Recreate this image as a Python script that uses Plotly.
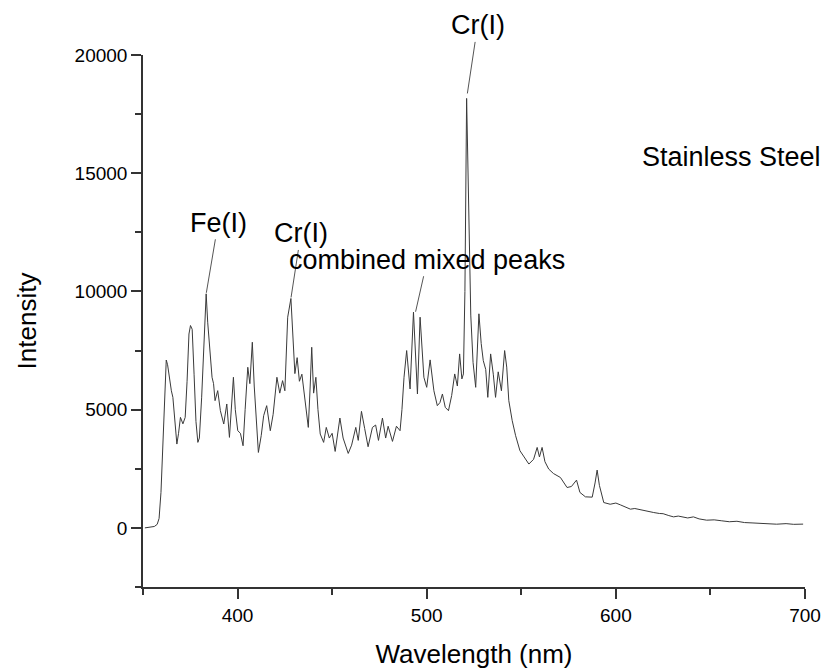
import plotly.graph_objects as go

wavelength = [
    351, 354, 356, 357.5, 358.5, 359.5, 360.5, 361.5, 362.3, 363, 364, 365, 365.8, 366.8, 367.9,
    368.8, 369.8, 371.1, 372.3, 373.3, 374.3, 375.1, 376, 377, 378, 379, 379.8, 381, 382.5, 383.4,
    384.2, 385.1, 386.5, 387.3, 388.1, 389.5, 390.9, 392.7, 394.3, 395.7, 396.8, 397.8, 398.8, 400.1,
    401.5, 402.9, 404, 405.4, 406.5, 407.8, 408.8, 409.8, 411, 412.5, 413.8, 415.4, 417.3, 418.8,
    420.8, 422.3, 423.8, 425, 426.5, 428.2, 429, 430.3, 431.5, 432.7, 434, 435.3, 437.4, 438.4,
    439.2, 440.2, 441.4, 442.5, 443.7, 445.5, 446.9, 448.5, 450, 451.6, 454.1, 455.8, 458.5, 460.3,
    462.5, 463.8, 465.5, 467.2, 469, 471.3, 473, 474.5, 476.6, 478.3, 479.6, 481.9, 484, 485.9,
    486.9, 488, 489.4, 491.2, 493, 495.1, 496.5, 498.5, 500, 501.8, 503.8, 505.6, 507, 508.3, 509.8,
    511.5, 513.2, 514.8, 516.2, 517.4, 518.6, 519.4, 520.2, 521.1, 522, 523.3, 524.5, 525.9, 527.6,
    528.8, 529.9, 531.2, 532.3, 533.8, 535.2, 536.4, 537.8, 539.5, 541.2, 542.3, 543.4, 545.2, 547,
    549.3, 551.5, 554, 556.5, 558.4, 559.6, 561, 562.5, 564.5, 567, 570.7, 574.2, 576.5, 579.2, 581,
    583.9, 587.5, 589, 590.1, 591.3, 593.6, 597, 600, 602.4, 605, 607.7, 610, 613, 616, 620, 623,
    625, 628, 630.5, 633, 636, 638, 641, 644, 648, 652, 656, 660, 664, 668, 672, 676, 681.5, 685,
    690, 694, 699,
]
intensity = [
    0, 20, 60, 150, 400, 1500, 3500, 6200, 7100, 6900, 6228, 5800, 5521, 4600, 3546,
    4000, 4674, 4400, 4674, 6200, 8200, 8559, 8400, 6500, 4500, 3616, 3800, 5500, 8500, 9901,
    8700, 7640, 6370, 6100, 5381, 5805, 4957, 4393, 5240, 3828, 5000, 6370, 5000, 4110,
    4000, 3474, 5000, 6793, 6100, 7852, 6000, 4500, 3191, 3900, 4746, 5169, 4110, 4800,
    6370, 5700, 6228, 5800, 8911, 9703, 8600, 6525, 7200, 6200, 6500, 5593, 4250, 6000,
    7640, 5700, 6370, 5000, 3969, 3616, 4250, 3800, 4000, 3233, 4646, 3800, 3149, 3500,
    4250, 3700, 4929, 4200, 3432, 4250, 4350, 3700, 4646, 3800, 4300, 3658, 4300, 4110,
    5000, 6370, 7500, 5875, 9124, 5663, 8911, 6370, 5945, 7105, 5800, 5169, 5300, 5663, 5100,
    4957, 5600, 6511, 6000, 7358, 6300, 6511, 10000, 18164, 14000, 9000, 7000, 5945, 9054,
    7800, 7076, 6700, 5521, 7358, 6500, 5521, 6600, 5800, 7500, 6800, 5381, 4534, 3900,
    3262, 3000, 2699, 2900, 3403, 3000, 3403, 2800, 2487, 2300, 2131, 1708, 1750, 2021, 1500,
    1313, 1300, 1900, 2445, 1800, 1072, 1000, 1050, 974, 900, 792, 820, 760, 720, 650, 610,
    600, 520, 466, 500, 450, 420, 466, 380, 326, 340, 300, 260, 280, 226, 210, 200, 170, 156, 180,
    150, 160, 127,
]

x_ticks = [400, 500, 600, 700]
x_minor = [350, 450, 550, 650]
y_ticks = [0, 5000, 10000, 15000, 20000]
y_tick_labels = ["0", "5000", "10000", "15000", "20000"]
y_minor = [-2500, 2500, 7500, 12500, 17500]

peak_labels = [
    # text, wavelength, intensity, text offset x/y (px), standoff
    ("Cr(I)", 521.1, 18164, 11, -73, 5),
    ("Fe(I)", 383.4, 9901, 12, -71, 1),
    ("Cr(I)", 428.2, 9703, 10, -65, 1),
    ("combined mixed peaks", 494.0, 9100, 12, -53, 1),
]

FONT = "Liberation Sans, Arial, sans-serif"
AXC = "#333333"

fig = go.Figure()
fig.add_trace(go.Scatter(
    x=wavelength, y=intensity, mode="lines",
    line=dict(color="#3a3a3a", width=1),
    showlegend=False, hoverinfo="x+y",
))

for text, xv, yv, ax, ay, so in peak_labels:
    fig.add_annotation(
        x=xv, y=yv, text=text, showarrow=True, arrowhead=0, arrowwidth=1,
        arrowcolor="#555555", ax=ax, ay=ay, standoff=so,
        font=dict(family=FONT, size=27, color="black"),
    )

fig.add_annotation(
    x=661, y=15700, text="Stainless Steel", showarrow=False,
    font=dict(family=FONT, size=27, color="black"),
)

fig.update_layout(
    template="none",
    width=825, height=669,
    margin=dict(l=143, r=20, t=55, b=82),
    paper_bgcolor="white", plot_bgcolor="white",
    font=dict(family=FONT, color="black"),
)
fig.update_xaxes(
    automargin=False,
    range=[350, 700], tickvals=x_ticks, ticks="outside", ticklen=10, tickwidth=1.5,
    tickcolor=AXC, showline=True, linecolor=AXC, linewidth=1.5,
    showgrid=False, zeroline=False, tickfont=dict(family=FONT, size=19, color="black"),
    minor=dict(tickvals=x_minor, ticks="outside", ticklen=6, tickcolor=AXC, tickwidth=1.5, showgrid=False),
    title=dict(text="Wavelength (nm)", font=dict(family=FONT, size=26, color="black"), standoff=22),
)
fig.update_yaxes(
    automargin=False,
    range=[-2500, 20000], tickvals=y_ticks, ticktext=y_tick_labels, ticks="outside", ticklen=10,
    tickwidth=1.5, tickcolor=AXC, showline=True, linecolor=AXC, linewidth=1.5,
    showgrid=False, zeroline=False, tickfont=dict(family=FONT, size=19, color="black"),
    minor=dict(tickvals=y_minor, ticks="outside", ticklen=6, tickcolor=AXC, tickwidth=1.5, showgrid=False),
    title=dict(text="Intensity", font=dict(family=FONT, size=26, color="black"), standoff=31),
)

fig.write_html("out.html")
